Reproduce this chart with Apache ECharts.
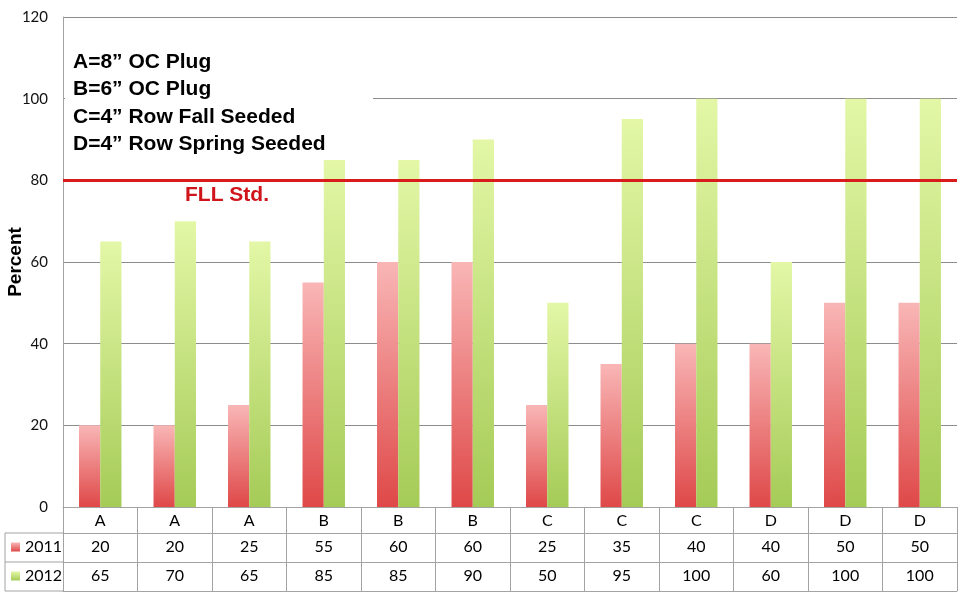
<!DOCTYPE html>
<html><head><meta charset="utf-8">
<script src="https://cdn.jsdelivr.net/npm/echarts@6/dist/echarts.min.js"></script>
<style>html,body{margin:0;padding:0;background:#fff}#c{width:960px;height:605px}</style>
</head><body><div id="c"></div>
<script>
const categories = ['A','A','A','B','B','B','C','C','C','D','D','D'];
const values2011 = [20,20,25,55,60,60,25,35,40,40,50,50];
const values2012 = [65,70,65,85,85,90,50,95,100,60,100,100];
const seriesNames = ['2011','2012'];
const yMin = 0, yMax = 120, yInterval = 20;
const fllStandard = 80;
const fllLabel = 'FLL Std.';
const keyLines = ['A=8\u201D OC Plug','B=6\u201D OC Plug','C=4\u201D Row Fall Seeded','D=4\u201D Row Spring Seeded'];

const tableGray = '#a3a3a3';
const gridGray = '#8c8c8c';
const tableFont = 'Lato, "Open Sans", sans-serif';
const boldFont = '"Liberation Sans", Arial, sans-serif';

const redGrad = {type:'linear',x:0,y:0,x2:0,y2:1,colorStops:[{offset:0,color:'#f9b6b6'},{offset:1,color:'#df4848'}]};
const greenGrad = {type:'linear',x:0,y:0,x2:0,y2:1,colorStops:[{offset:0,color:'#e3f7a6'},{offset:1,color:'#a5cb57'}]};

const chart = echarts.init(document.getElementById('c'), null, {renderer:'canvas'});

function tableAxis(data, offset, showLabel) {
  return {
    type:'category', data:data, position:'bottom', offset:offset,
    axisLine:{show:true, lineStyle:{color:tableGray, width:1}},
    axisTick:{show:false},
    axisLabel:{show:showLabel, interval:0, margin:6, fontSize:16, color:'#000', fontFamily:tableFont},
    splitLine:{show:false}
  };
}

const option = {
  animation:false,
  backgroundColor:'#fff',
  grid:{left:63, right:3, top:17, bottom:98, containLabel:false, outerBoundsMode:'none'},
  legend:[
    {data:[seriesNames[0]], left:11, top:539, orient:'vertical', padding:0, icon:'rect', itemWidth:9, itemHeight:9, itemGap:5,
     textStyle:{fontSize:16, color:'#000', fontFamily:tableFont}, selectedMode:false},
    {data:[seriesNames[1]], left:11, top:568, orient:'vertical', padding:0, icon:'rect', itemWidth:9, itemHeight:9, itemGap:5,
     textStyle:{fontSize:16, color:'#000', fontFamily:tableFont}, selectedMode:false}
  ],
  xAxis:[
    {
      type:'category', data:categories, position:'bottom',
      axisLine:{show:true, lineStyle:{color:tableGray, width:1}},
      axisTick:{show:true, length:84, lineStyle:{color:tableGray, width:1}},
      axisLabel:{interval:0, margin:6, fontSize:16, color:'#000', fontFamily:tableFont},
      splitLine:{show:false}
    },
    tableAxis(values2011.map(String), 26, true),
    tableAxis(values2012.map(String), 55, true),
    tableAxis(categories, 84, false)
  ],
  yAxis:{
    type:'value', min:yMin, max:yMax, interval:yInterval,
    name:'Percent', nameLocation:'middle', nameGap:38, nameMoveOverlap:false,
    nameTextStyle:{fontSize:19, fontWeight:'bold', color:'#000', fontFamily:boldFont},
    axisLine:{show:true, lineStyle:{color:tableGray, width:1}},
    axisTick:{show:false},
    axisLabel:{margin:15, fontSize:15, color:'#111', fontFamily:tableFont},
    splitLine:{show:true, lineStyle:{color:gridGray, width:1}}
  },
  series:[
    {
      name:seriesNames[0], type:'bar', data:values2011, xAxisIndex:0, yAxisIndex:0,
      barGap:'0%', barCategoryGap:'43%',
      itemStyle:{color:redGrad, shadowColor:'rgba(0,0,0,0.18)', shadowBlur:3, shadowOffsetX:1},
      markLine:{
        silent:true, symbol:'none', z:5,
        data:[{yAxis:fllStandard}],
        lineStyle:{color:'#d81b1b', width:3, type:'solid'},
        label:{show:false}
      }
    },
    {
      name:seriesNames[1], type:'bar', data:values2012, xAxisIndex:0, yAxisIndex:0,
      barGap:'0%', barCategoryGap:'43%',
      itemStyle:{color:greenGrad, shadowColor:'rgba(0,0,0,0.18)', shadowBlur:3, shadowOffsetX:1}
    }
  ],
  graphic:[
    {type:'rect', id:'keyBox', left:65, top:30, shape:{width:308, height:127}, style:{fill:'#fff'}, z:1, silent:true},
    {type:'text', id:'keyText', left:73, top:48, z:1, silent:true,
     style:{text:keyLines.join('\n'), font:'bold 21px ' + boldFont, lineHeight:27.5, fill:'#000'}},
    {type:'line', shape:{x1:5, y1:533, x2:63, y2:533}, style:{stroke:tableGray, lineWidth:1}, silent:true},
    {type:'line', shape:{x1:5, y1:562, x2:63, y2:562}, style:{stroke:tableGray, lineWidth:1}, silent:true},
    {type:'line', shape:{x1:5, y1:591, x2:63, y2:591}, style:{stroke:tableGray, lineWidth:1}, silent:true},
    {type:'line', shape:{x1:5, y1:533, x2:5, y2:591}, style:{stroke:tableGray, lineWidth:1}, silent:true}
  ]
};
chart.setOption(option);

const lineY = chart.convertToPixel({yAxisIndex:0}, fllStandard);
chart.setOption({
  graphic:[{type:'text', id:'fll', left:185, top:lineY + 4, z:6, silent:true,
    style:{text:fllLabel, font:'bold 21px ' + boldFont, fill:'#d0141b'}}]
});
</script>
</body></html>
